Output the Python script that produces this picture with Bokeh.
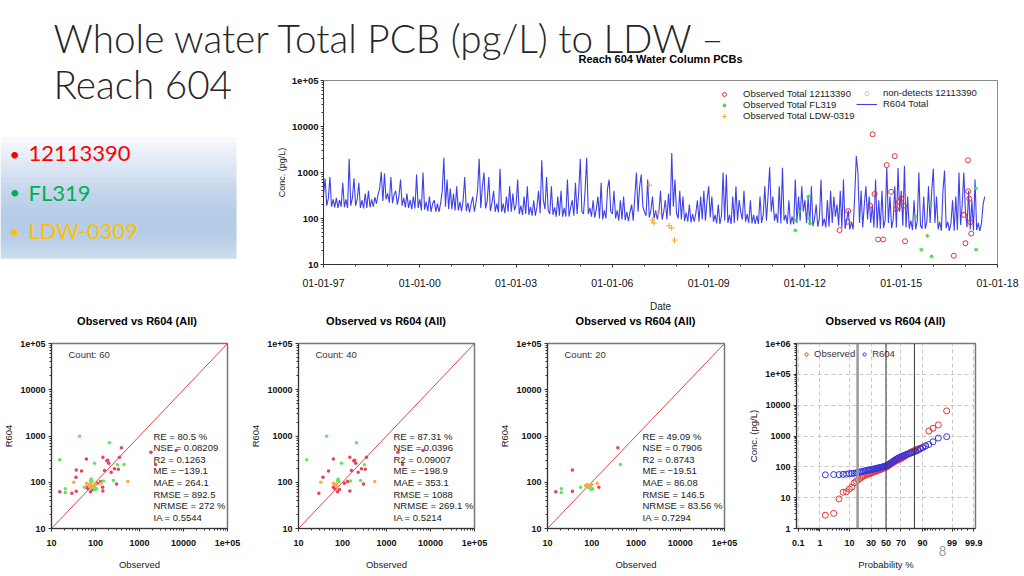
import numpy as np
import pandas as pd
from statistics import NormalDist
from bokeh.plotting import figure
from bokeh.layouts import column, row
from bokeh.models import (Label, BoxAnnotation, Span, FixedTicker, Legend, LegendItem,
                          ColumnDataSource, Range1d, DatetimeTickFormatter, GridBox)
from bokeh.embed import file_html
from bokeh.resources import INLINE

# ---------------------------------------------------------------- data
slide_title = ["Whole water Total PCB (pg/L) to LDW \u2013", "Reach 604"]
bullet_labels = ["12113390", "FL319", "LDW-0309"]
bullet_colors = ["#ff0000", "#00b050", "#ffc000"]
top_title = "Reach 604 Water Column PCBs"
panel_title = "Observed vs R604 (All)"
page_number = "8"

# R604 Total model series, one value every 1/20 year from 1997-01-01
r604_step_days = 365.25 / 20
r604_total = [
    320, 740, 190, 270, 800, 180, 260, 175, 280, 170, 250, 180, 600, 175, 260, 170, 2000, 190, 280, 750,
    190, 260, 600, 170, 250, 165, 350, 170, 400, 175, 260, 180, 290, 210, 330, 450, 1030, 240, 950, 260,
    350, 220, 800, 215, 330, 400, 200, 300, 700, 190, 280, 175, 350, 170, 250, 160, 300, 165, 900, 170,
    260, 150, 1000, 155, 230, 145, 300, 140, 210, 250, 140, 210, 140, 215, 400, 2100, 180, 700, 160, 450,
    160, 350, 150, 500, 150, 230, 145, 250, 800, 145, 220, 135, 210, 300, 140, 220, 400, 2000, 170, 500,
    1000, 165, 240, 800, 145, 220, 400, 140, 210, 135, 1200, 140, 210, 130, 300, 140, 500, 140, 350, 150,
    200, 700, 125, 190, 120, 300, 125, 500, 120, 180, 115, 250, 115, 180, 400, 130, 1850, 250, 160, 800,
    150, 125, 500, 120, 175, 110, 300, 115, 400, 110, 170, 110, 700, 110, 170, 250, 115, 600, 125, 350,
    2000, 140, 125, 400, 2100, 125, 170, 110, 250, 105, 160, 300, 100, 600, 95, 150, 100, 450, 700, 140,
    125, 400, 100, 150, 90, 250, 95, 300, 92, 140, 88, 140, 200, 90, 300, 1000, 140, 500, 900, 180,
    140, 115, 700, 105, 150, 300, 100, 150, 95, 145, 400, 95, 140, 250, 95, 350, 115, 2650, 180, 700,
    130, 100, 400, 95, 300, 88, 135, 85, 200, 82, 125, 85, 130, 250, 85, 300, 95, 400, 90, 250,
    500, 105, 300, 85, 120, 78, 200, 76, 115, 1000, 90, 900, 80, 120, 76, 300, 80, 500, 90, 250,
    140, 95, 400, 85, 125, 80, 250, 78, 120, 76, 115, 76, 300, 80, 120, 500, 90, 300, 1300, 140,
    300, 90, 130, 80, 500, 78, 1260, 90, 120, 76, 250, 74, 110, 75, 700, 80, 300, 90, 500, 140,
    250, 80, 300, 72, 500, 68, 100, 200, 66, 100, 700, 68, 100, 64, 250, 66, 400, 80, 300, 110,
    200, 70, 400, 62, 700, 60, 90, 150, 58, 85, 58, 300, 2290, 1000, 80, 400, 64, 200, 500, 95,
    300, 80, 200, 64, 700, 62, 250, 60, 400, 62, 95, 1300, 80, 300, 62, 95, 500, 64, 1250, 140,
    400, 70, 1400, 64, 300, 60, 90, 56, 250, 58, 88, 1000, 70, 60, 300, 60, 88, 500, 80, 400,
    1200, 80, 300, 58, 85, 54, 400, 1100, 62, 85, 54, 80, 250, 54, 300, 56, 1000, 72, 200, 1000,
    140, 65, 400, 58, 250, 55, 700, 56, 80, 54, 78, 200, 300,
]

obs_12113390_dates = ["2013-01-30", "2013-05-08", "2013-05-01", "2014-01-12", "2014-02-10", "2014-03-04",
                      "2014-04-13", "2014-06-10", "2014-07-20", "2014-09-09", "2014-10-19", "2014-11-03",
                      "2014-12-06", "2015-01-01", "2015-01-30", "2015-02-14", "2016-08-22", "2016-12-16",
                      "2017-01-01", "2017-01-30", "2017-02-01", "2017-02-14", "2017-02-25", "2017-03-08"]
obs_12113390_vals = [56, 145, 85, 190, 6760, 340, 35, 35, 1450, 380, 2260, 160,
                     230, 270, 190, 32, 15.5, 120, 29, 1850, 390, 270, 83, 47]
obs_fl319_dates = ["2011-09-12", "2011-09-14", "2011-10-27", "2012-02-10", "2012-02-20", "2012-02-28",
                   "2015-06-14", "2015-08-18", "2015-10-27", "2015-12-02", "2015-12-13", "2017-05-01",
                   "2017-05-02"]
obs_fl319_vals = [93, 55, 140, 300, 100, 78, 110, 21, 42, 215, 15, 450, 21]
obs_ldw_dates = ["2007-02-24", "2007-04-02", "2007-04-20", "2007-06-06", "2007-10-09", "2007-11-07", "2007-12-09"]
obs_ldw_vals = [530, 93, 80, 130, 70, 62, 34]
nondetect_dates = []
nondetect_vals = []

# scatter panel "Count: 40"
p2_red_obs = [62, 147, 190, 200, 350, 160, 227, 270, 48, 36, 62, 67, 77, 147, 130, 29, 1820, 2320, 6760, 300, 110, 85, 180, 330]
p2_red_mod = [320, 348, 300, 258, 348, 180, 165, 195, 174, 128, 78, 72, 62, 65, 104, 58, 447, 242, 487, 92, 95, 70, 290, 190]
p2_green_obs = [43.6, 208, 15.4, 95, 315, 256, 80, 77, 83, 152]
p2_green_mod = [990, 713, 305, 258, 238, 109, 118, 109, 104, 106]
p2_orange_obs = [32, 62, 67, 73, 541, 75]
p2_orange_mod = [100, 95, 89, 81, 104, 92]
# scatter panel "Count: 20"
p3_red_obs = [388, 36.5, 15.4, 36.5, 145]
p3_red_mod = [555, 185, 62, 64, 78]
p3_green_obs = [445, 20.6, 20.6, 56, 85, 97, 93, 105]
p3_green_mod = [242, 72, 60, 78, 76, 69, 81, 72]
p3_orange_obs = [79, 133, 87, 81, 95, 72, 100]
p3_orange_mod = [89, 95, 81, 81, 86, 84, 90]

one_to_one = [10, 100000]

stats_all = ["RE = 80.5 %", "NSE = 0.08209", "R2 = 0.1263", "ME = \u2212139.1", "MAE = 264.1",
             "RMSE = 892.5", "NRMSE = 272 %", "IA = 0.5544"]
stats_p2 = ["RE = 87.31 %", "NSE = 0.0396", "R2 = 0.09007", "ME = \u2212198.9", "MAE = 353.1",
            "RMSE = 1088", "NRMSE = 269.1 %", "IA = 0.5214"]
stats_p3 = ["RE = 49.09 %", "NSE = 0.7906", "R2 = 0.8743", "ME = \u221219.51", "MAE = 86.08",
            "RMSE = 146.5", "NRMSE = 83.56 %", "IA = 0.7294"]

# probability plot (sorted values)
prob_observed = [2.7, 3.1, 9.1, 15, 15.5, 19, 22, 30, 34, 38, 42, 46, 50, 53, 56, 58, 60, 62, 65, 68,
                 70, 72, 75, 78, 80, 83, 86, 90, 93, 96, 100, 105, 112, 120, 128, 135, 142, 150, 158, 165,
                 172, 180, 190, 200, 215, 230, 250, 270, 290, 310, 330, 350, 380, 400, 430, 480, 1450, 1780, 2290, 6530]
prob_r604 = [55, 56, 56, 57, 58, 60, 61, 62, 64, 66, 68, 70, 72, 74, 76, 78, 79, 80, 82, 84,
             86, 88, 90, 92, 94, 96, 98, 100, 103, 106, 110, 115, 120, 128, 136, 145, 155, 165, 175, 185,
             195, 205, 215, 225, 235, 245, 255, 265, 275, 290, 305, 320, 345, 380, 420, 480, 530, 650, 860, 950]
prob_major = [0.1, 1, 10, 30, 50, 70, 90, 99, 99.9]
prob_minor = [0.2, 0.3, 0.4, 0.5, 0.6, 0.7, 0.8, 0.9, 2, 3, 4, 5, 6, 7, 8, 9, 20, 40, 60, 80,
              91, 92, 93, 94, 95, 96, 97, 98, 99.2, 99.4, 99.6, 99.8]

gradient_colors = ["#f7f9fc", "#f2f6fb", "#edf2f9", "#e8eff7", "#e3ebf5", "#dee8f4",
                   "#d9e4f2", "#d4e1f0", "#cfddef", "#cadaed", "#c6d7ec", "#c2d4eb",
                   "#bed2ea", "#bbd0e9", "#b8cee8", "#b6cde7", "#b5cce6", "#b5cce6",
                   "#b6cde7", "#b8cee7", "#bbd0e8", "#bfd3ea", "#c4d7ec", "#cadbee"]

# ---------------------------------------------------------------- styling helpers
FONT = "Liberation Sans"
SLIDE_FONT = "Lato Light"
SLIDE_FONT2 = "Lato"
W, H = 1024, 576


def label(p, text, x, y, size, color="#000000", font=FONT, style="normal", align="left",
          baseline="middle", units="screen"):
    p.add_layout(Label(x=x, y=y, x_units=units, y_units=units, text=text, text_font=font,
                       text_font_size=f"{size}px", text_font_style=style, text_color=color,
                       text_align=align, text_baseline=baseline))


def style_axis(ax, size, bold=True, label_size="9.5px"):
    ax.major_label_text_font = FONT
    ax.major_label_text_font_size = size
    ax.major_label_text_font_style = "bold" if bold else "normal"
    ax.major_label_text_color = "#111111"
    ax.axis_label_text_font = FONT
    ax.axis_label_text_font_size = label_size
    ax.axis_label_text_font_style = "normal"
    ax.axis_label_text_color = "#222222"
    ax.axis_line_color = "#333333"
    ax.major_tick_line_color = "#333333"
    ax.minor_tick_line_color = "#333333"
    ax.major_tick_out = 3
    ax.major_tick_in = 0
    ax.minor_tick_out = 2
    ax.minor_tick_in = 0


def decade_ticks(lo, hi):
    majors, minors = [], []
    for e in range(lo, hi + 1):
        majors.append(10 ** e)
        if e < hi:
            minors += [k * 10 ** e for k in range(2, 10)]
    return majors, minors


def decade_labels(majors):
    return {v: (f"1e+0{int(round(np.log10(v)))}" if v >= 100000 else str(int(v))) for v in majors}


# ---------------------------------------------------------------- top chart
TOP_H = 314
FL, FB = 323, 266  # page position of top frame's left / bottom

top = figure(width=W, height=TOP_H, x_axis_type="datetime", y_axis_type="log",
             x_range=Range1d(pd.Timestamp("1997-01-01"), pd.Timestamp("2018-01-01")),
             y_range=Range1d(10, 100000), output_backend="svg", toolbar_location=None,
             min_border_left=FL, min_border_right=W - 997, min_border_top=80, min_border_bottom=TOP_H - FB)
top.xgrid.visible = False
top.ygrid.visible = False
top.outline_line_color = "#8a8a8a"

r604_dates = pd.Timestamp("1997-01-01") + pd.to_timedelta(np.arange(len(r604_total)) * r604_step_days, unit="D")
r_line = top.line(x=r604_dates, y=r604_total, line_color="#1f1fe6", line_width=1.1, line_alpha=0.85)
r_red = top.scatter(x=pd.to_datetime(obs_12113390_dates), y=obs_12113390_vals, marker="circle", size=5,
                    fill_color=None, line_color="#e8303a", line_width=1)
r_green = top.scatter(x=pd.to_datetime(obs_fl319_dates), y=obs_fl319_vals, marker="asterisk", size=4,
                      line_color="#44dd44", line_width=1)
r_orange = top.scatter(x=pd.to_datetime(obs_ldw_dates), y=obs_ldw_vals, marker="cross", size=6,
                       line_color="#f5a623", line_width=1)
if nondetect_dates:
    nd_src = ColumnDataSource(dict(x=pd.to_datetime(nondetect_dates), y=nondetect_vals))
else:
    nd_src = ColumnDataSource(dict(x=[np.nan], y=[np.nan]))  # no non-detects: legend entry only
r_nd = top.scatter(x="x", y="y", source=nd_src, marker="circle", size=5, fill_color=None,
                   line_color="#c4c4c4", line_width=1)

year_ms = lambda y: pd.Timestamp(f"{y}-01-01").timestamp() * 1000.0
top.xaxis.ticker = FixedTicker(ticks=[year_ms(y) for y in range(1997, 2019, 3)],
                               minor_ticks=[year_ms(y) for y in range(1997, 2019)])
top.xaxis.formatter = DatetimeTickFormatter(years="%m-%d-%y", months="%m-%d-%y", days="%m-%d-%y")
maj, mnr = decade_ticks(1, 5)
top.yaxis.ticker = FixedTicker(ticks=maj, minor_ticks=mnr)
top.yaxis.major_label_overrides = decade_labels(maj)
style_axis(top.xaxis, "10.5px", bold=False, label_size="10px")
style_axis(top.yaxis, "9.5px", bold=True, label_size="9px")
top.xaxis.axis_label = "Date"
top.xaxis.major_label_standoff = 11
top.xaxis.axis_label_standoff = 11
top.yaxis.axis_label = "Conc. (pg/L)"
top.yaxis.major_label_standoff = 2
top.yaxis.axis_label_standoff = 2

leg_common = dict(label_text_font=FONT, label_text_font_size="9.5px", label_text_color="#222222",
                  glyph_height=10, label_height=10, spacing=0, padding=0, margin=0,
                  border_line_alpha=0, background_fill_alpha=0)
legend_a = Legend(items=[LegendItem(label="Observed Total 12113390", renderers=[r_red]),
                         LegendItem(label="Observed Total FL319", renderers=[r_green]),
                         LegendItem(label="Observed Total LDW-0319", renderers=[r_orange])],
                  location=(716 - FL, FB - 123), glyph_width=16, label_standoff=11, **leg_common)
legend_b = Legend(items=[LegendItem(label="non-detects 12113390", renderers=[r_nd]),
                         LegendItem(label="R604 Total", renderers=[r_line])],
                  location=(856 - FL, FB - 111), glyph_width=21, label_standoff=6, **leg_common)
top.add_layout(legend_a)
top.add_layout(legend_b)

# ---------------------------------------------------------------- scatter panels
BOT_H = H - TOP_H
FRAME_TOP, FRAME_BOT = 343, 528
LB = 50  # left border of every lower panel


def scatter_panel(width, right, groups, stats, count, stats_dx):
    p = figure(width=width, height=BOT_H, x_axis_type="log", y_axis_type="log",
               x_range=Range1d(10, 100000), y_range=Range1d(10, 100000),
               output_backend="svg", toolbar_location=None,
               min_border_left=LB, min_border_right=right,
               min_border_top=FRAME_TOP - TOP_H, min_border_bottom=H - FRAME_BOT)
    p.xgrid.visible = False
    p.ygrid.visible = False
    p.outline_line_color = "#777777"
    p.outline_line_width = 1.5
    p.line(one_to_one, one_to_one, line_color="#e8404a", line_width=1)
    for obs, mod, col in groups:
        p.scatter(obs, mod, marker="circle", size=3.5, fill_color=col, line_color=None)
    majors, minors = decade_ticks(1, 5)
    for ax in (p.xaxis, p.yaxis):
        ax.ticker = FixedTicker(ticks=majors, minor_ticks=minors)
        ax.major_label_overrides = decade_labels(majors)
        style_axis(ax, "9px", bold=True)
        ax.major_label_standoff = 3
        ax.axis_label_standoff = 3
    p.xaxis.major_label_standoff = 8
    p.xaxis.axis_label_standoff = 10
    p.xaxis.axis_label = "Observed"
    p.yaxis.axis_label = "R604"
    label(p, f"Count: {count}", 17, 174, 9.5, color="#333333")
    for i, s in enumerate(stats):
        label(p, s, stats_dx, 92.3 - i * 11.57, 9.5, color="#222222")
    return p


RED, GREEN, ORANGE = "#e8405c", "#5fe85f", "#ffa844"
p1 = scatter_panel(247, 20,
                   [(p2_red_obs + p3_red_obs, p2_red_mod + p3_red_mod, RED),
                    (p2_green_obs + p3_green_obs, p2_green_mod + p3_green_mod, GREEN),
                    (p2_orange_obs + p3_orange_obs, p2_orange_mod + p3_orange_mod, ORANGE)],
                   stats_all, len(p2_red_obs + p2_green_obs + p2_orange_obs + p3_red_obs + p3_green_obs + p3_orange_obs), 102)
p2 = scatter_panel(249, 22,
                   [(p2_red_obs, p2_red_mod, RED), (p2_green_obs, p2_green_mod, GREEN),
                    (p2_orange_obs, p2_orange_mod, ORANGE)],
                   stats_p2, len(p2_red_obs + p2_green_obs + p2_orange_obs), 95)
p3 = scatter_panel(249, 21,
                   [(p3_red_obs, p3_red_mod, RED), (p3_green_obs, p3_green_mod, GREEN),
                    (p3_orange_obs, p3_orange_mod, ORANGE)],
                   stats_p3, len(p3_red_obs + p3_green_obs + p3_orange_obs), 95)

# ---------------------------------------------------------------- probability panel
nd = NormalDist()
n = len(prob_observed)
z_pos = [nd.inv_cdf(i / (n + 1)) for i in range(1, n + 1)]
z_major = [nd.inv_cdf(v / 100) for v in prob_major]
z_minor = [nd.inv_cdf(v / 100) for v in prob_minor]

P4_X = 745
p4 = figure(width=W - P4_X, height=BOT_H, y_axis_type="log", x_range=Range1d(-3.15, 3.15),
            y_range=Range1d(1, 1000000), output_backend="svg", toolbar_location=None,
            min_border_left=LB, min_border_right=W - 975, min_border_top=FRAME_TOP - TOP_H,
            min_border_bottom=H - FRAME_BOT)
p4.outline_line_color = "#777777"
p4.outline_line_width = 1.5
maj4, mnr4 = decade_ticks(0, 6)
p4.yaxis.ticker = FixedTicker(ticks=maj4, minor_ticks=mnr4)
p4.yaxis.major_label_overrides = decade_labels(maj4)
p4.xaxis.ticker = FixedTicker(ticks=z_major, minor_ticks=z_minor)
p4.xaxis.major_label_overrides = {z: (str(v) if v != int(v) else str(int(v))) for z, v in zip(z_major, prob_major)}
for ax in (p4.xaxis, p4.yaxis):
    style_axis(ax, "9px", bold=True)
    ax.major_label_standoff = 3
    ax.axis_label_standoff = 3
p4.xaxis.major_label_standoff = 8
p4.xaxis.axis_label_standoff = 10
p4.xaxis.axis_label = "Probability %"
p4.yaxis.axis_label = "Conc. (pg/L)"
for g in (p4.xgrid, p4.ygrid):
    g.grid_line_color = "#c8c8c8"
    g.grid_line_dash = "4 3"
    g.grid_line_width = 1
p4.xgrid.ticker = FixedTicker(ticks=z_major)
p4.add_layout(Span(location=-1, dimension="height", line_color="#9a9a9a", line_width=2.5))
p4.add_layout(Span(location=0, dimension="height", line_color="#333333", line_width=1))
p4.add_layout(Span(location=1, dimension="height", line_color="#333333", line_width=1))
ro = p4.scatter(z_pos, prob_observed, marker="circle", size=6, fill_color=None, line_color="#e83535", line_width=1)
rm = p4.scatter(z_pos, prob_r604, marker="circle", size=6, fill_color=None, line_color="#3535e0", line_width=1)
leg4 = Legend(items=[LegendItem(label="Observed", renderers=[ro]), LegendItem(label="R604", renderers=[rm])],
              location=(6, 169), orientation="horizontal", label_text_font=FONT, label_text_font_size="9.5px",
              label_text_color="#333333", glyph_width=8, glyph_height=10, label_height=10, label_standoff=4,
              spacing=5, padding=0, margin=0, border_line_alpha=0, background_fill_alpha=0)
p4.add_layout(leg4)

# ---------------------------------------------------------------- slide overlay (page coordinates)
slide = figure(width=W, height=H, x_range=Range1d(0, W), y_range=Range1d(H, 0), title=None,
               x_axis_location=None, y_axis_location=None, output_backend="svg", toolbar_location=None,
               min_border=0)
slide.grid.visible = False
slide.outline_line_color = None
slide.background_fill_alpha = 0
slide.border_fill_alpha = 0

box_top, box_bottom = 137, 258
strip_h = (box_bottom - box_top) / len(gradient_colors)
for i, c in enumerate(gradient_colors):
    t = box_top + i * strip_h
    slide.add_layout(BoxAnnotation(left=0, right=236, top=t - 0.3, bottom=t + strip_h + 0.3,
                                   fill_color=c, fill_alpha=1.0, line_alpha=0, level="underlay"))
for i, (txt, col) in enumerate(zip(bullet_labels, bullet_colors)):
    yy = 153 + i * 38.5
    label(slide, "\u2022", 9, yy, 18, color=col, font=SLIDE_FONT2, units="data")
    label(slide, txt, 28, yy, 22, color=col, font=SLIDE_FONT2, units="data")

label(slide, slide_title[0], 53, 37, 38.7, color="#262626", font=SLIDE_FONT, units="data")
label(slide, slide_title[1], 53, 83, 38.7, color="#262626", font=SLIDE_FONT, units="data")
label(slide, top_title, 660, 58, 11, style="bold", align="center", units="data")
for cx in (136.5, 385.5, 635, 885):
    label(slide, panel_title, cx, 320, 11, style="bold", align="center", units="data")
label(slide, page_number, 942, 550, 13, color="#9a9a9a", font=SLIDE_FONT2, align="center", units="data")

charts = column(top, row(p1, p2, p3, p4, spacing=0), spacing=0)
layout = GridBox(children=[(charts, 0, 0), (slide, 0, 0)])
open("out.html", "w").write(file_html(layout, INLINE))
